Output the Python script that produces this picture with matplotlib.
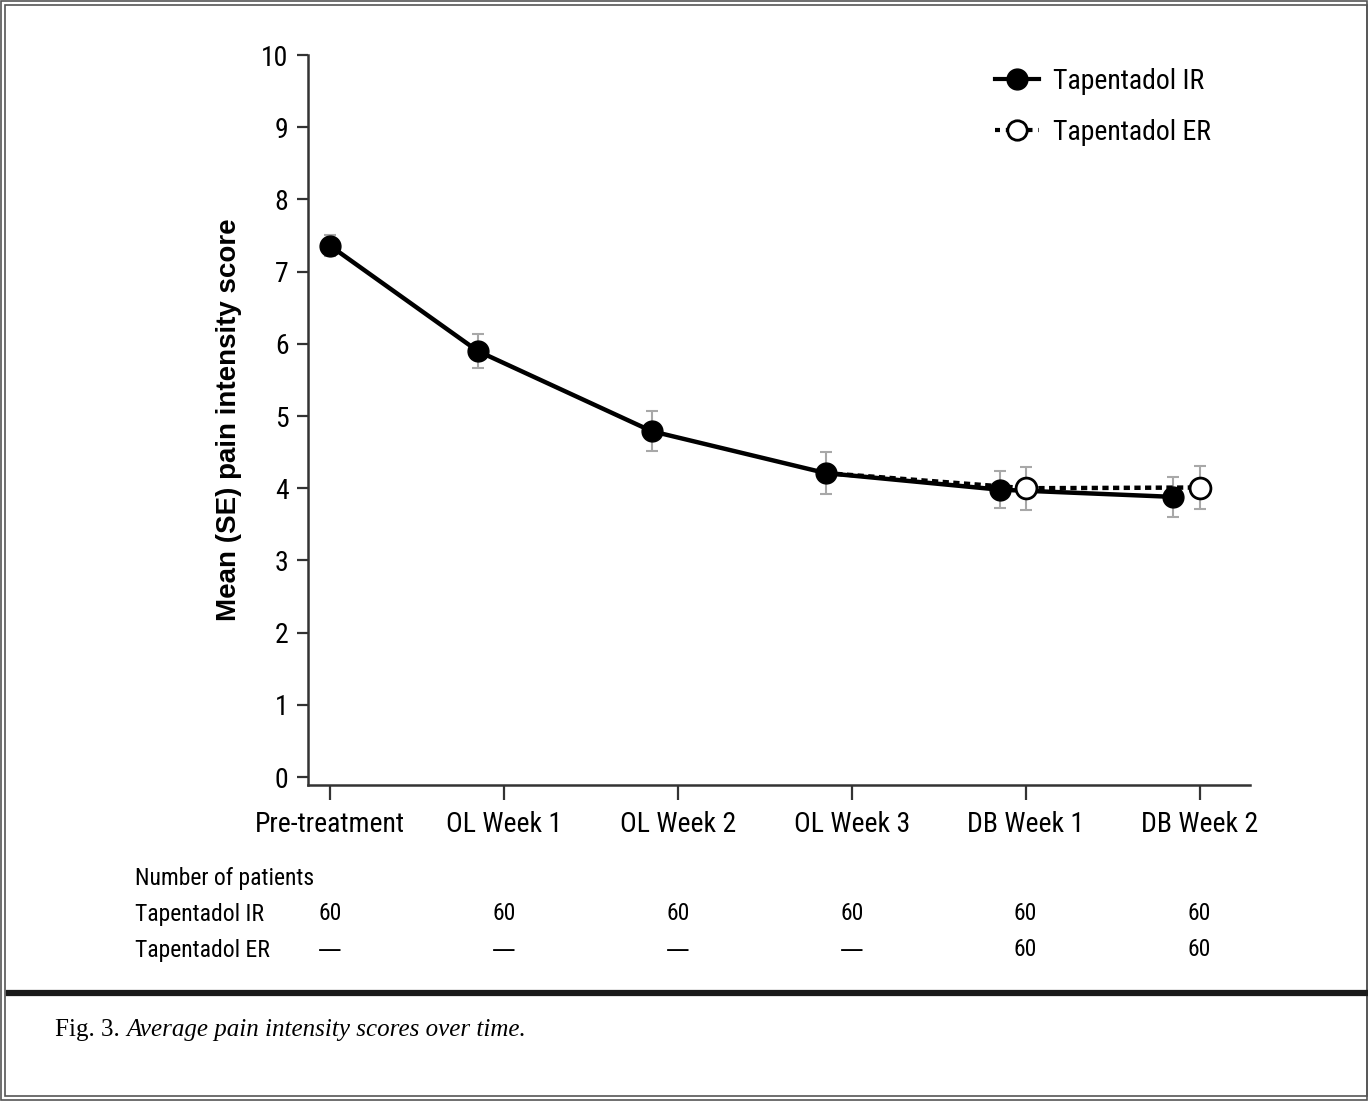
import numpy as np
import matplotlib
matplotlib.use('Agg')
import matplotlib.pyplot as plt
from matplotlib import font_manager
from matplotlib.patches import Rectangle
from matplotlib.lines import Line2D

# data
timepoints = ['Pre-treatment', 'OL Week 1', 'OL Week 2', 'OL Week 3', 'DB Week 1', 'DB Week 2']
ir_mean = [7.36, 5.90, 4.79, 4.21, 3.98, 3.88]
ir_se = [0.15, 0.24, 0.28, 0.29, 0.26, 0.28]
er_mean = [np.nan, np.nan, np.nan, np.nan, 4.00, 4.01]
er_se = [np.nan, np.nan, np.nan, np.nan, 0.30, 0.30]
n_ir = ['60', '60', '60', '60', '60', '60']
n_er = ['\u2014', '\u2014', '\u2014', '\u2014', '60', '60']


def have_font(name):
    try:
        font_manager.findfont(font_manager.FontProperties(family=name), fallback_to_default=False)
        return True
    except Exception:
        return False


# look for a condensed sans, else fall back to Liberation Sans
cond = None
for f in ['Liberation Sans Narrow', 'Roboto Condensed', 'DejaVu Sans Condensed', 'Open Sans Condensed']:
    if have_font(f):
        cond = f
        break
if cond is None:
    cond = 'Liberation Sans'
    big, small = 18, 15
else:
    big, small = 20, 17

plt.rcParams['font.family'] = [cond, 'DejaVu Sans']

fig = plt.figure(figsize=(13.68, 11.01), dpi=100)
ax = fig.add_axes([308/1368, 1-785/1101, 942/1368, 730/1101])

x = np.arange(len(timepoints))
# IR points are nudged left of the tick after baseline
x_ir = x - np.where(x > 0, 0.15, 0.0)

ax.errorbar(x_ir, ir_mean, yerr=ir_se, fmt='none', ecolor='#a8a8a8',
            elinewidth=1.5, capsize=4, capthick=1.5, zorder=2)
ax.errorbar(x, er_mean, yerr=er_se, fmt='none', ecolor='#a8a8a8',
            elinewidth=1.5, capsize=4, capthick=1.5, zorder=2)

# ER dotted line starts from the last open-label IR point
er_mask = ~np.isnan(er_mean)
er_line_x = np.concatenate([[x_ir[3]], x[er_mask]])
er_line_y = np.concatenate([[ir_mean[3]], np.array(er_mean)[er_mask]])
ax.plot(er_line_x, er_line_y, color='black', lw=3.2, ls=(0, (1.4, 1.0)), zorder=3)
ax.plot(x_ir, ir_mean, color='black', lw=3.2, zorder=4)
ax.plot(x_ir, ir_mean, 'o', color='black', ms=15, zorder=5)
ax.plot(x[er_mask], np.array(er_mean)[er_mask], 'o', mfc='white', mec='black',
        mew=2, ms=15, zorder=5)

ax.set_xlim(-0.126, 5.29)
ax.set_ylim(-0.11, 10)
ax.set_yticks(range(0, 11))
ax.set_xticks(x)
ax.set_xticklabels(timepoints)
ax.tick_params(axis='both', labelsize=big, width=1.6, color='#333333', direction='out')
ax.tick_params(axis='y', length=8, pad=6)
ax.tick_params(axis='x', length=11, pad=8)
for s in ['top', 'right']:
    ax.spines[s].set_visible(False)
for s in ['left', 'bottom']:
    ax.spines[s].set_linewidth(1.8)
    ax.spines[s].set_color('#333333')
ax.spines['left'].set_bounds(-0.11, 10)

ax.set_ylabel('Mean (SE) pain intensity score', fontsize=20, fontweight='bold',
              family=['Liberation Sans', 'DejaVu Sans'])
ax.yaxis.set_label_coords(-0.07, 0.5)

handles = [Line2D([], [], color='black', lw=3, marker='o', ms=15),
           Line2D([], [], color='black', lw=3, ls=(0, (1.2, 1.4)), marker='o',
                  ms=14, mfc='white', mew=2)]
ax.legend(handles, ['Tapentadol IR', 'Tapentadol ER'], loc='upper left',
          bbox_to_anchor=(995/1368, 1-68/1101), bbox_transform=fig.transFigure,
          frameon=False, fontsize=big, handlelength=1.6, handletextpad=0.5,
          labelspacing=0.85, borderpad=0, borderaxespad=0)

# number of patients table
tr = ax.get_xaxis_transform()
fig.text(135/1368, 1-878/1101, 'Number of patients', fontsize=small, va='center')
fig.text(135/1368, 1-914/1101, 'Tapentadol IR', fontsize=small, va='center')
fig.text(135/1368, 1-950/1101, 'Tapentadol ER', fontsize=small, va='center')
y_ir = (785-914)/730
y_er = (785-950)/730
for i in range(len(timepoints)):
    ax.text(x[i], y_ir, n_ir[i], transform=tr, ha='center', va='center', fontsize=small)
    ax.text(x[i], y_er, n_er[i], transform=tr, ha='center', va='center', fontsize=small,
            family=['DejaVu Sans'] if n_er[i] == '\u2014' else None)

# caption
cap1 = fig.text(55/1368, 1-1030/1101, 'Fig. 3. ', fontsize=18, va='center',
                family=['Liberation Serif', 'DejaVu Serif'])
ax.annotate('Average pain intensity scores over time.', xy=(1, 0), xycoords=cap1,
            va='bottom', ha='left', fontsize=18, style='italic',
            family=['Liberation Serif', 'DejaVu Serif'], annotation_clip=False)

# frame and divider
fig.add_artist(Rectangle((1/1368, 1/1101), 1366/1368, 1099/1101, transform=fig.transFigure,
                         fill=False, lw=1.2, ec='#555555'))
fig.add_artist(Rectangle((5/1368, 5/1101), 1362/1368, 1091/1101, transform=fig.transFigure,
                         fill=False, lw=1.2, ec='#555555'))
fig.add_artist(Line2D([9/1368, 1], [1-993/1101, 1-993/1101], transform=fig.transFigure,
                      lw=4.5, color='#1a1a1a'))

fig.savefig('out.png', dpi=100)
